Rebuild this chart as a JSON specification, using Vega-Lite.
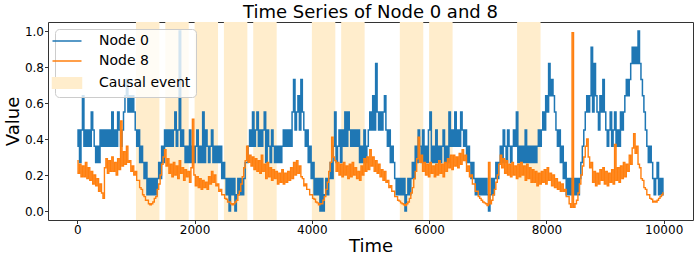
{
"$schema": "https://vega.github.io/schema/vega-lite/v6.json",
"width": 645, "height": 198,
"autosize": {"type": "none"},
"padding": {"left": 48, "top": 22, "right": 5, "bottom": 41},
"title": {"text": "Time Series of Node 0 and 8", "fontSize": 18, "font": "DejaVu Sans", "fontWeight": "normal", "color": "#000", "offset": 0, "anchor": "middle"},
"datasets": {
"ev": [{"s":1000,"e":1400},{"s":1500,"e":1900},{"s":2000,"e":2400},{"s":2500,"e":2900},{"s":3000,"e":3400},{"s":4000,"e":4400},{"s":4500,"e":4900},{"s":5500,"e":5900},{"s":6000,"e":6400},{"s":7500,"e":7900}],
"ts": [
{"t":0,"a":0.36,"b":0.28},{"t":25,"a":0.45,"b":0.21},{"t":50,"a":0.27,"b":0.26},{"t":75,"a":0.45,"b":0.19},
{"t":100,"a":0.64,"b":0.25},{"t":125,"a":0.36,"b":0.19},{"t":150,"a":0.45,"b":0.27},{"t":175,"a":0.36,"b":0.18},
{"t":200,"a":0.45,"b":0.24},{"t":225,"a":0.36,"b":0.17},{"t":250,"a":0.55,"b":0.22},{"t":275,"a":0.45,"b":0.15},
{"t":300,"a":0.36,"b":0.20},{"t":325,"a":0.27,"b":0.14},{"t":350,"a":0.36,"b":0.18},{"t":375,"a":0.27,"b":0.11},
{"t":400,"a":0.45,"b":0.15},{"t":425,"a":0.36,"b":0.10},{"t":450,"a":0.45,"b":0.07},{"t":475,"a":0.36,"b":0.24},
{"t":500,"a":0.45,"b":0.29},{"t":525,"a":0.36,"b":0.21},{"t":550,"a":0.45,"b":0.28},{"t":575,"a":0.36,"b":0.22},
{"t":600,"a":0.55,"b":0.30},{"t":625,"a":0.36,"b":0.22},{"t":650,"a":0.45,"b":0.27},{"t":675,"a":0.36,"b":0.20},
{"t":700,"a":0.55,"b":0.29},{"t":725,"a":0.45,"b":0.23},{"t":750,"a":0.36,"b":0.50},{"t":775,"a":0.45,"b":0.25},
{"t":800,"a":0.55,"b":0.33},{"t":825,"a":0.64,"b":0.26},{"t":850,"a":0.73,"b":0.36},{"t":875,"a":0.55,"b":0.27},
{"t":900,"a":0.64,"b":0.28},{"t":925,"a":0.55,"b":0.22},{"t":950,"a":0.64,"b":0.25},{"t":975,"a":0.55,"b":0.20},
{"t":1000,"a":0.45,"b":0.22},{"t":1025,"a":0.36,"b":0.17},{"t":1050,"a":0.45,"b":0.17},{"t":1075,"a":0.27,"b":0.13},
{"t":1100,"a":0.36,"b":0.12},{"t":1125,"a":0.27,"b":0.09},{"t":1150,"a":0.18,"b":0.08},{"t":1175,"a":0.27,"b":0.06},
{"t":1200,"a":0.09,"b":0.06},{"t":1225,"a":0.18,"b":0.04},{"t":1250,"a":0.09,"b":0.035},{"t":1275,"a":0.18,"b":0.04},
{"t":1300,"a":0.09,"b":0.05},{"t":1325,"a":0.18,"b":0.07},{"t":1350,"a":0.09,"b":0.08},{"t":1375,"a":0.18,"b":0.12},
{"t":1400,"a":0.27,"b":0.15},{"t":1425,"a":0.18,"b":0.20},{"t":1450,"a":0.36,"b":0.26},{"t":1475,"a":0.27,"b":0.30},
{"t":1500,"a":0.45,"b":0.34},{"t":1525,"a":0.36,"b":0.25},{"t":1550,"a":0.45,"b":0.29},{"t":1575,"a":0.36,"b":0.21},
{"t":1600,"a":0.45,"b":0.26},{"t":1625,"a":0.36,"b":0.19},{"t":1650,"a":0.45,"b":0.27},{"t":1675,"a":0.55,"b":0.20},
{"t":1700,"a":0.36,"b":0.25},{"t":1725,"a":0.45,"b":0.18},{"t":1750,"a":1.0,"b":0.28},{"t":1775,"a":0.36,"b":0.21},
{"t":1800,"a":0.45,"b":0.24},{"t":1825,"a":0.36,"b":0.17},{"t":1850,"a":0.27,"b":0.23},{"t":1875,"a":0.36,"b":0.19},
{"t":1900,"a":0.27,"b":0.22},{"t":1925,"a":0.45,"b":0.16},{"t":1950,"a":0.27,"b":0.24},{"t":1975,"a":0.36,"b":0.51},
{"t":2000,"a":0.27,"b":0.20},{"t":2025,"a":0.36,"b":0.14},{"t":2050,"a":0.45,"b":0.19},{"t":2075,"a":0.27,"b":0.13},
{"t":2100,"a":0.36,"b":0.18},{"t":2125,"a":0.27,"b":0.12},{"t":2150,"a":0.55,"b":0.17},{"t":2175,"a":0.27,"b":0.13},
{"t":2200,"a":0.45,"b":0.16},{"t":2225,"a":0.36,"b":0.12},{"t":2250,"a":0.27,"b":0.19},{"t":2275,"a":0.36,"b":0.15},
{"t":2300,"a":0.45,"b":0.22},{"t":2325,"a":0.27,"b":0.16},{"t":2350,"a":0.36,"b":0.20},{"t":2375,"a":0.27,"b":0.14},
{"t":2400,"a":0.36,"b":0.15},{"t":2425,"a":0.27,"b":0.11},{"t":2450,"a":0.36,"b":0.12},{"t":2475,"a":0.18,"b":0.09},
{"t":2500,"a":0.27,"b":0.09},{"t":2525,"a":0.18,"b":0.07},{"t":2550,"a":0.09,"b":0.065},{"t":2575,"a":0.18,"b":0.05},
{"t":2600,"a":0,"b":0.05},{"t":2625,"a":0.18,"b":0.04},{"t":2650,"a":0.09,"b":0.035},{"t":2675,"a":0.18,"b":0.04},
{"t":2700,"a":0,"b":0.05},{"t":2725,"a":0.09,"b":0.06},{"t":2750,"a":0.18,"b":0.09},{"t":2775,"a":0.09,"b":0.11},
{"t":2800,"a":0.18,"b":0.15},{"t":2825,"a":0.09,"b":0.19},{"t":2850,"a":0.18,"b":0.24},{"t":2875,"a":0.27,"b":0.28},
{"t":2900,"a":0.27,"b":0.36},{"t":2925,"a":0.36,"b":0.27},{"t":2950,"a":0.45,"b":0.31},{"t":2975,"a":0.36,"b":0.25},
{"t":3000,"a":0.55,"b":0.30},{"t":3025,"a":0.36,"b":0.23},{"t":3050,"a":0.45,"b":0.29},{"t":3075,"a":0.55,"b":0.22},
{"t":3100,"a":0.36,"b":0.28},{"t":3125,"a":0.45,"b":0.21},{"t":3150,"a":0.36,"b":0.31},{"t":3175,"a":0.45,"b":0.22},
{"t":3200,"a":0.55,"b":0.26},{"t":3225,"a":0.27,"b":0.18},{"t":3250,"a":0.45,"b":0.27},{"t":3275,"a":0.36,"b":0.19},
{"t":3300,"a":0.27,"b":0.24},{"t":3325,"a":0.45,"b":0.17},{"t":3350,"a":0.36,"b":0.23},{"t":3375,"a":0.27,"b":0.18},
{"t":3400,"a":0.36,"b":0.22},{"t":3425,"a":0.27,"b":0.15},{"t":3450,"a":0.36,"b":0.21},{"t":3475,"a":0.27,"b":0.16},
{"t":3500,"a":0.36,"b":0.23},{"t":3525,"a":0.45,"b":0.15},{"t":3550,"a":0.36,"b":0.21},{"t":3575,"a":0.45,"b":0.16},
{"t":3600,"a":0.36,"b":0.22},{"t":3625,"a":0.45,"b":0.17},{"t":3650,"a":0.36,"b":0.24},{"t":3675,"a":0.55,"b":0.18},
{"t":3700,"a":0.73,"b":0.27},{"t":3725,"a":0.45,"b":0.20},{"t":3750,"a":0.55,"b":0.28},{"t":3775,"a":0.64,"b":0.21},
{"t":3800,"a":0.45,"b":0.25},{"t":3825,"a":0.73,"b":0.19},{"t":3850,"a":0.55,"b":0.18},{"t":3875,"a":0.45,"b":0.14},
{"t":3900,"a":0.36,"b":0.15},{"t":3925,"a":0.45,"b":0.12},{"t":3950,"a":0.27,"b":0.12},{"t":3975,"a":0.36,"b":0.09},
{"t":4000,"a":0.18,"b":0.09},{"t":4025,"a":0.27,"b":0.07},{"t":4050,"a":0.09,"b":0.065},{"t":4075,"a":0.18,"b":0.05},
{"t":4100,"a":0.09,"b":0.045},{"t":4125,"a":0.18,"b":0.035},{"t":4150,"a":0,"b":0.04},{"t":4175,"a":0.18,"b":0.04},
{"t":4200,"a":0,"b":0.06},{"t":4225,"a":0.09,"b":0.08},{"t":4250,"a":0.18,"b":0.12},{"t":4275,"a":0.09,"b":0.16},
{"t":4300,"a":0.18,"b":0.22},{"t":4325,"a":0.27,"b":0.27},{"t":4350,"a":0.18,"b":0.41},{"t":4375,"a":0.36,"b":0.30},
{"t":4400,"a":0.55,"b":0.28},{"t":4425,"a":0.27,"b":0.22},{"t":4450,"a":0.36,"b":0.27},{"t":4475,"a":0.45,"b":0.20},
{"t":4500,"a":0.27,"b":0.26},{"t":4525,"a":0.45,"b":0.19},{"t":4550,"a":0.36,"b":0.27},{"t":4575,"a":0.55,"b":0.20},
{"t":4600,"a":0.36,"b":0.25},{"t":4625,"a":0.55,"b":0.18},{"t":4650,"a":0.45,"b":0.26},{"t":4675,"a":0.36,"b":0.19},
{"t":4700,"a":0.45,"b":0.27},{"t":4725,"a":0.36,"b":0.20},{"t":4750,"a":0.45,"b":0.24},{"t":4775,"a":0.36,"b":0.18},
{"t":4800,"a":0.45,"b":0.22},{"t":4825,"a":0.27,"b":0.17},{"t":4850,"a":0.36,"b":0.25},{"t":4875,"a":0.27,"b":0.20},
{"t":4900,"a":0.45,"b":0.29},{"t":4925,"a":0.27,"b":0.22},{"t":4950,"a":0.36,"b":0.30},{"t":4975,"a":0.45,"b":0.23},
{"t":5000,"a":0.55,"b":0.34},{"t":5025,"a":0.45,"b":0.25},{"t":5050,"a":0.64,"b":0.30},{"t":5075,"a":0.45,"b":0.22},
{"t":5100,"a":0.82,"b":0.28},{"t":5125,"a":0.55,"b":0.21},{"t":5150,"a":0.45,"b":0.26},{"t":5175,"a":0.55,"b":0.19},
{"t":5200,"a":0.45,"b":0.23},{"t":5225,"a":0.55,"b":0.17},{"t":5250,"a":0.64,"b":0.22},{"t":5275,"a":0.45,"b":0.16},
{"t":5300,"a":0.36,"b":0.17},{"t":5325,"a":0.45,"b":0.13},{"t":5350,"a":0.27,"b":0.14},{"t":5375,"a":0.36,"b":0.11},
{"t":5400,"a":0.27,"b":0.11},{"t":5425,"a":0.18,"b":0.08},{"t":5450,"a":0.09,"b":0.08},{"t":5475,"a":0.18,"b":0.06},
{"t":5500,"a":0.09,"b":0.055},{"t":5525,"a":0.18,"b":0.045},{"t":5550,"a":0.09,"b":0.04},{"t":5575,"a":0.18,"b":0.035},
{"t":5600,"a":0,"b":0.03},{"t":5625,"a":0.09,"b":0.04},{"t":5650,"a":0.18,"b":0.05},{"t":5675,"a":0.09,"b":0.07},
{"t":5700,"a":0.18,"b":0.10},{"t":5725,"a":0.27,"b":0.13},{"t":5750,"a":0.18,"b":0.18},{"t":5775,"a":0.36,"b":0.22},
{"t":5800,"a":0.27,"b":0.29},{"t":5825,"a":0.45,"b":0.41},{"t":5850,"a":0.36,"b":0.27},{"t":5875,"a":0.27,"b":0.31},
{"t":5900,"a":0.45,"b":0.22},{"t":5925,"a":0.27,"b":0.27},{"t":5950,"a":0.36,"b":0.20},{"t":5975,"a":0.27,"b":0.26},
{"t":6000,"a":0.45,"b":0.19},{"t":6025,"a":0.55,"b":0.27},{"t":6050,"a":0.27,"b":0.21},{"t":6075,"a":0.36,"b":0.25},
{"t":6100,"a":0.27,"b":0.19},{"t":6125,"a":0.45,"b":0.26},{"t":6150,"a":0.27,"b":0.20},{"t":6175,"a":0.36,"b":0.28},
{"t":6200,"a":0.27,"b":0.21},{"t":6225,"a":0.36,"b":0.26},{"t":6250,"a":0.45,"b":0.19},{"t":6275,"a":0.27,"b":0.27},
{"t":6300,"a":0.36,"b":0.22},{"t":6325,"a":0.27,"b":0.29},{"t":6350,"a":0.55,"b":0.24},{"t":6375,"a":0.36,"b":0.31},
{"t":6400,"a":0.45,"b":0.23},{"t":6425,"a":0.36,"b":0.31},{"t":6450,"a":0.55,"b":0.25},{"t":6475,"a":0.36,"b":0.30},
{"t":6500,"a":0.45,"b":0.24},{"t":6525,"a":0.36,"b":0.32},{"t":6550,"a":0.55,"b":0.26},{"t":6575,"a":0.45,"b":0.34},
{"t":6600,"a":0.36,"b":0.28},{"t":6625,"a":0.45,"b":0.31},{"t":6650,"a":0.27,"b":0.22},{"t":6675,"a":0.36,"b":0.25},
{"t":6700,"a":0.27,"b":0.19},{"t":6725,"a":0.18,"b":0.20},{"t":6750,"a":0.27,"b":0.15},{"t":6775,"a":0.18,"b":0.15},
{"t":6800,"a":0.09,"b":0.11},{"t":6825,"a":0.18,"b":0.11},{"t":6850,"a":0.09,"b":0.08},{"t":6875,"a":0.18,"b":0.07},
{"t":6900,"a":0.09,"b":0.06},{"t":6925,"a":0.18,"b":0.05},{"t":6950,"a":0.09,"b":0.045},{"t":6975,"a":0.18,"b":0.04},
{"t":7000,"a":0.09,"b":0.03},{"t":7025,"a":0,"b":0.27},{"t":7050,"a":0.09,"b":0.04},{"t":7075,"a":0.18,"b":0.06},
{"t":7100,"a":0.09,"b":0.09},{"t":7125,"a":0.18,"b":0.12},{"t":7150,"a":0.27,"b":0.16},{"t":7175,"a":0.18,"b":0.20},
{"t":7200,"a":0.27,"b":0.26},{"t":7225,"a":0.36,"b":0.31},{"t":7250,"a":0.27,"b":0.24},{"t":7275,"a":0.45,"b":0.29},
{"t":7300,"a":0.36,"b":0.21},{"t":7325,"a":0.27,"b":0.28},{"t":7350,"a":0.45,"b":0.20},{"t":7375,"a":0.36,"b":0.26},
{"t":7400,"a":0.27,"b":0.19},{"t":7425,"a":0.36,"b":0.27},{"t":7450,"a":0.45,"b":0.20},{"t":7475,"a":0.36,"b":0.25},
{"t":7500,"a":0.55,"b":0.18},{"t":7525,"a":0.27,"b":0.26},{"t":7550,"a":0.36,"b":0.19},{"t":7575,"a":0.27,"b":0.27},
{"t":7600,"a":0.36,"b":0.20},{"t":7625,"a":0.27,"b":0.25},{"t":7650,"a":0.45,"b":0.17},{"t":7675,"a":0.27,"b":0.26},
{"t":7700,"a":0.36,"b":0.18},{"t":7725,"a":0.27,"b":0.24},{"t":7750,"a":0.36,"b":0.16},{"t":7775,"a":0.27,"b":0.23},
{"t":7800,"a":0.36,"b":0.16},{"t":7825,"a":0.27,"b":0.22},{"t":7850,"a":0.36,"b":0.14},{"t":7875,"a":0.45,"b":0.21},
{"t":7900,"a":0.36,"b":0.15},{"t":7925,"a":0.45,"b":0.22},{"t":7950,"a":0.55,"b":0.16},{"t":7975,"a":0.45,"b":0.23},
{"t":8000,"a":0.64,"b":0.15},{"t":8025,"a":0.55,"b":0.24},{"t":8050,"a":0.82,"b":0.17},{"t":8075,"a":0.64,"b":0.21},
{"t":8100,"a":0.73,"b":0.14},{"t":8125,"a":0.64,"b":0.20},{"t":8150,"a":0.55,"b":0.13},{"t":8175,"a":0.45,"b":0.18},
{"t":8200,"a":0.36,"b":0.12},{"t":8225,"a":0.45,"b":0.16},{"t":8250,"a":0.27,"b":0.11},{"t":8275,"a":0.36,"b":0.15},
{"t":8300,"a":0.18,"b":0.11},{"t":8325,"a":0.27,"b":0.12},{"t":8350,"a":0.09,"b":0.08},{"t":8375,"a":0.18,"b":0.08},
{"t":8400,"a":0.09,"b":0.04},{"t":8425,"a":0.18,"b":0.02},{"t":8450,"a":0.09,"b":0.99},{"t":8475,"a":0.18,"b":0.02},
{"t":8500,"a":0.09,"b":0.04},{"t":8525,"a":0.18,"b":0.06},{"t":8550,"a":0.09,"b":0.10},{"t":8575,"a":0.18,"b":0.15},
{"t":8600,"a":0.27,"b":0.20},{"t":8625,"a":0.36,"b":0.25},{"t":8650,"a":0.45,"b":0.30},{"t":8675,"a":0.55,"b":0.36},
{"t":8700,"a":0.64,"b":0.40},{"t":8725,"a":0.55,"b":0.30},{"t":8750,"a":0.64,"b":0.24},{"t":8775,"a":0.91,"b":0.27},
{"t":8800,"a":0.55,"b":0.16},{"t":8825,"a":0.82,"b":0.22},{"t":8850,"a":0.64,"b":0.14},{"t":8875,"a":0.55,"b":0.21},
{"t":8900,"a":0.45,"b":0.15},{"t":8925,"a":0.64,"b":0.23},{"t":8950,"a":0.55,"b":0.17},{"t":8975,"a":0.73,"b":0.24},
{"t":9000,"a":0.55,"b":0.15},{"t":9025,"a":0.45,"b":0.22},{"t":9050,"a":0.36,"b":0.14},{"t":9075,"a":0.45,"b":0.21},
{"t":9100,"a":0.55,"b":0.16},{"t":9125,"a":0.36,"b":0.23},{"t":9150,"a":0.45,"b":0.15},{"t":9175,"a":0.55,"b":0.37},
{"t":9200,"a":0.36,"b":0.17},{"t":9225,"a":0.45,"b":0.24},{"t":9250,"a":0.36,"b":0.16},{"t":9275,"a":0.55,"b":0.25},
{"t":9300,"a":0.45,"b":0.18},{"t":9325,"a":0.55,"b":0.27},{"t":9350,"a":0.64,"b":0.19},{"t":9375,"a":0.73,"b":0.26},
{"t":9400,"a":0.64,"b":0.22},{"t":9425,"a":0.73,"b":0.31},{"t":9450,"a":0.82,"b":0.26},{"t":9475,"a":0.91,"b":0.35},
{"t":9500,"a":0.82,"b":0.43},{"t":9525,"a":0.91,"b":0.32},{"t":9550,"a":0.82,"b":0.36},{"t":9575,"a":1.0,"b":0.26},
{"t":9600,"a":0.82,"b":0.24},{"t":9625,"a":0.73,"b":0.18},{"t":9650,"a":0.64,"b":0.17},{"t":9675,"a":0.55,"b":0.13},
{"t":9700,"a":0.45,"b":0.12},{"t":9725,"a":0.36,"b":0.09},{"t":9750,"a":0.27,"b":0.09},{"t":9775,"a":0.36,"b":0.07},
{"t":9800,"a":0.27,"b":0.065},{"t":9825,"a":0.18,"b":0.05},{"t":9850,"a":0.09,"b":0.055},{"t":9875,"a":0.18,"b":0.05},
{"t":9900,"a":0.27,"b":0.06},{"t":9925,"a":0.09,"b":0.07},{"t":9950,"a":0.18,"b":0.08},{"t":9975,"a":0.09,"b":0.09},
{"t":9999,"a":0.18,"b":0.10}
]
},
"layer": [
{
"data": {"name": "ev"},
"mark": {"type": "rect"},
"encoding": {
"x": {"field": "s", "type": "quantitative", "title": "Time", "scale": {"domain": [-500, 10500], "nice": false, "zero": false}, "axis": {"values": [0, 2000, 4000, 6000, 8000, 10000], "format": "d"}},
"x2": {"field": "e"},
"color": {"datum": "Causal event", "type": "nominal",
"scale": {"domain": ["Node 0", "Node 8", "Causal event"], "range": ["#1f77b4", "#ff7f0e", "#ffedcc"]},
"legend": {"title": null, "orient": "top-left", "offset": 7, "padding": 5, "symbolSize": 100, "symbolStrokeWidth": 1.5,
"labelFontSize": 14, "labelFont": "DejaVu Sans", "labelColor": "#000", "labelOffset": 25, "rowPadding": 6,
"fillColor": "rgba(255,255,255,0.8)", "strokeColor": "#cccccc", "cornerRadius": 4,
"encode": {"symbols": {"update": {
"shape": {"signal": "datum.value === 'Causal event' ? 'M-2.9,-1.07H2.9V1.07H-2.9Z' : 'M-2.9,0H2.9'"},
"fill": {"signal": "datum.value === 'Causal event' ? '#ffedcc' : 'transparent'"},
"stroke": {"signal": "datum.value === 'Node 0' ? '#1f77b4' : (datum.value === 'Node 8' ? '#ff7f0e' : 'transparent')"},
"strokeWidth": {"value": 1.5},
"opacity": {"value": 1}
}}}}}
}
},
{
"data": {"name": "ts"},
"mark": {"type": "line", "strokeWidth": 1.5, "interpolate": "step"},
"encoding": {
"x": {"field": "t", "type": "quantitative", "title": "Time"},
"y": {"field": "a", "type": "quantitative", "title": "Value", "scale": {"domain": [-0.05, 1.05], "nice": false, "zero": false}, "axis": {"values": [0, 0.2, 0.4, 0.6, 0.8, 1], "tickCount": 6, "format": ".1f", "labelOverlap": false, "labelBound": false}},
"color": {"datum": "Node 0", "type": "nominal"}
}
},
{
"data": {"name": "ts"},
"mark": {"type": "line", "strokeWidth": 1.4, "interpolate": "step"},
"encoding": {
"x": {"field": "t", "type": "quantitative", "title": "Time"},
"y": {"field": "b", "type": "quantitative", "title": "Value", "axis": {"values": [0, 0.2, 0.4, 0.6, 0.8, 1], "tickCount": 6, "format": ".1f", "labelOverlap": false, "labelBound": false}},
"color": {"datum": "Node 8", "type": "nominal"}
}
}
],
"config": {
"view": {"stroke": "#333", "strokeWidth": 1},
"axis": {"domain": false, "grid": false, "labelOverlap": false, "tickColor": "#333", "tickSize": 3.5, "tickWidth": 1, "labelFont": "DejaVu Sans", "labelFontSize": 12, "labelColor": "#000", "titleFont": "DejaVu Sans", "titleFontSize": 18, "titleFontWeight": "normal", "titleColor": "#000"},
"axisX": {"labelPadding": 1, "titlePadding": 2},
"axisY": {"labelPadding": 1, "titlePadding": 2}
}
}
